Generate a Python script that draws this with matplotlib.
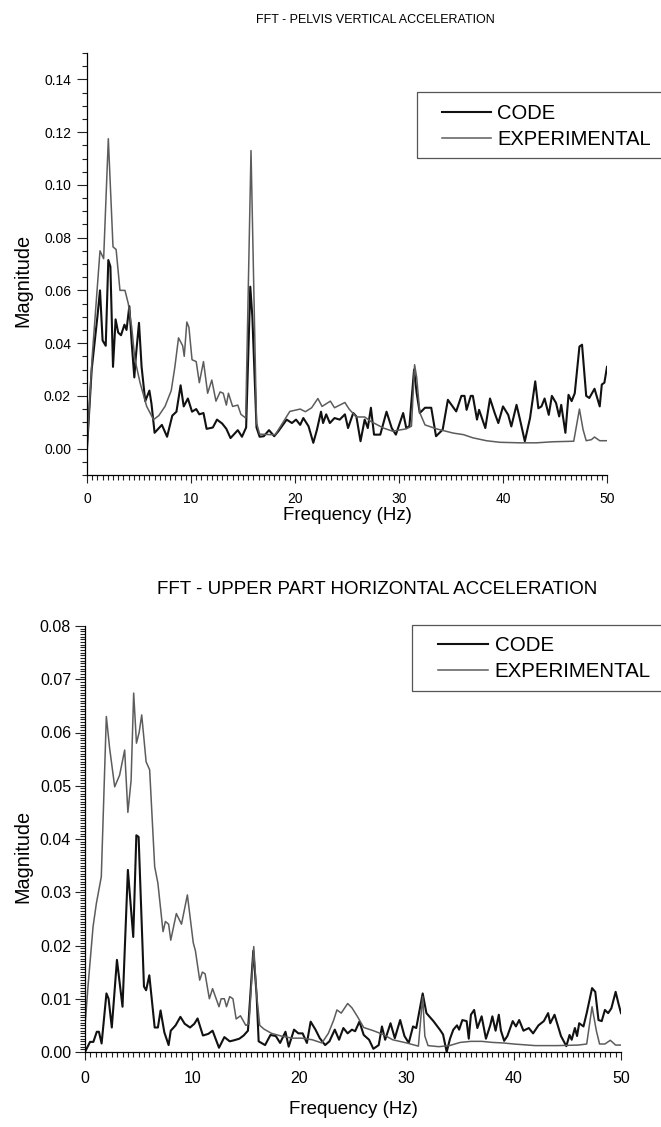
import matplotlib
matplotlib.use('Agg')
import matplotlib.pyplot as plt
from matplotlib.ticker import MultipleLocator, FormatStrFormatter
from matplotlib.patches import Rectangle

plt.rcParams['font.family'] = ['Liberation Sans', 'DejaVu Sans']

# --- pelvis vertical acceleration (top panel) ---
top_code_f = [
    0, 0.45, 1.0, 1.25, 1.5, 1.8, 2.05, 2.25, 2.5, 2.75,
    3.0, 3.27, 3.6, 3.8, 4.07, 4.3, 4.55, 4.7, 5.0, 5.25,
    5.6, 6.0, 6.2, 6.5, 7.2, 7.7, 8.2, 8.6, 9.0, 9.3,
    9.7, 10.1, 10.5, 10.8, 11.2, 11.5, 12.1, 12.5, 13.0, 13.4,
    13.8, 14.5, 14.9, 15.3, 15.7, 15.9, 16.3, 16.6, 17.0, 17.5,
    18.0, 18.4, 19.2, 19.7, 20.1, 20.5, 20.8, 21.3, 21.76, 22.1,
    22.5, 22.7, 23.0, 23.35, 23.8, 24.3, 24.8, 25.1, 25.6, 25.9,
    26.3, 26.7, 27.0, 27.3, 27.6, 28.2, 28.8, 29.3, 29.7, 30.4,
    30.7, 31.0, 31.45, 31.7, 32.0, 32.5, 33.1, 33.56, 34.2, 34.7,
    35.5, 36.0, 36.3, 36.5, 36.9, 37.1, 37.5, 37.7, 38.3, 38.75,
    39.2, 39.55, 40.0, 40.5, 40.8, 41.3, 41.6, 42.1, 42.6, 43.1,
    43.4, 43.7, 44.0, 44.4, 44.7, 45.1, 45.4, 45.6, 46.0, 46.3,
    46.6, 46.9, 47.35, 47.6, 48.0, 48.3, 48.8, 49.3, 49.5, 49.75,
    50.0]
top_code_v = [
    0.000, 0.030, 0.050, 0.060, 0.041, 0.039, 0.0715, 0.069, 0.031, 0.049,
    0.044, 0.043, 0.047, 0.045, 0.054, 0.040, 0.027, 0.035, 0.0477, 0.031,
    0.018, 0.022, 0.017, 0.006, 0.009, 0.0045, 0.0125, 0.014, 0.024, 0.016,
    0.019, 0.014, 0.015, 0.013, 0.0135, 0.0075, 0.008, 0.011, 0.0095, 0.0075,
    0.004, 0.007, 0.0045, 0.008, 0.0614, 0.050, 0.008, 0.0045, 0.0047, 0.007,
    0.0047, 0.0066, 0.011, 0.0097, 0.011, 0.009, 0.0116, 0.0085, 0.0022, 0.007,
    0.014, 0.0097, 0.013, 0.0097, 0.0116, 0.011, 0.013, 0.0078, 0.0135, 0.0122,
    0.0028, 0.011, 0.0078, 0.0155, 0.0053, 0.0053, 0.014, 0.0078, 0.0053, 0.0135,
    0.0078, 0.0085, 0.030, 0.021, 0.0135, 0.0155, 0.0155, 0.0047, 0.0072, 0.0185,
    0.0141, 0.020, 0.020, 0.0147, 0.020, 0.020, 0.011, 0.0147, 0.0078, 0.019,
    0.0135, 0.0097, 0.016, 0.0128, 0.0084, 0.0166, 0.0116, 0.0028, 0.0116, 0.0255,
    0.0153, 0.016, 0.019, 0.0128, 0.020, 0.0173, 0.0122, 0.0166, 0.006, 0.0204,
    0.018, 0.021, 0.0387, 0.0394, 0.020, 0.0192, 0.0227, 0.016, 0.0243, 0.025,
    0.031]

top_exp_f = [
    0, 0.5, 1.25, 1.6, 2.05, 2.5, 2.8, 3.17, 3.65, 3.97,
    4.3, 4.6, 5.1, 5.74, 6.4, 6.9, 7.5, 8.1, 8.45, 8.8,
    9.2, 9.35, 9.6, 9.8, 10.1, 10.5, 10.8, 11.2, 11.6, 12.0,
    12.4, 12.8, 13.1, 13.4, 13.6, 14.0, 14.5, 14.8, 15.26, 15.77,
    16.3, 16.6, 17.6, 18.1, 18.9, 19.5, 20.5, 21.0, 21.6, 22.2,
    22.6, 23.4, 23.8, 24.8, 25.2, 25.9, 26.7, 27.3, 28.5, 29.4,
    30.7, 31.2, 31.5, 31.7, 32.0, 32.5, 33.6, 35.2, 36.2, 37.1,
    38.4, 39.7, 41.6, 43.2, 44.8, 46.8, 47.0, 47.35, 47.7, 48.0,
    48.5, 48.8, 49.3, 50.0]
top_exp_v = [
    0.0, 0.035, 0.075, 0.072, 0.1175, 0.0765, 0.0755, 0.060, 0.060, 0.055,
    0.046, 0.034, 0.025, 0.016, 0.011, 0.0125, 0.016, 0.022, 0.031, 0.042,
    0.039, 0.035, 0.048, 0.046, 0.0337, 0.033, 0.025, 0.033, 0.021, 0.026,
    0.018, 0.0215, 0.021, 0.0165, 0.021, 0.016, 0.0165, 0.013, 0.0116, 0.113,
    0.0098, 0.0055, 0.0053, 0.0053, 0.0103, 0.0141, 0.015, 0.014, 0.0155, 0.019,
    0.016, 0.018, 0.0155, 0.0175, 0.015, 0.012, 0.012, 0.0103, 0.0078, 0.0066,
    0.0075, 0.0085, 0.0318, 0.027, 0.0136, 0.009, 0.0075, 0.0059, 0.0053, 0.0041,
    0.003, 0.0024, 0.0022, 0.0022, 0.0026, 0.0028, 0.0072, 0.015, 0.0072, 0.003,
    0.0034, 0.0044, 0.003, 0.003]

# --- upper part horizontal acceleration (bottom panel) ---
bot_code_f = [
    0, 0.47, 0.78, 1.1, 1.3, 1.55, 2.0, 2.2, 2.5, 2.98,
    3.5, 4.0, 4.5, 4.79, 5.0, 5.5, 5.7, 6.0, 6.5, 6.8,
    7.05, 7.4, 7.8, 8.0, 8.45, 8.9, 9.3, 9.8, 10.2, 10.5,
    11.0, 11.5, 11.9, 12.5, 13.0, 13.5, 13.9, 14.4, 14.8, 15.2,
    15.7, 16.0, 16.2, 16.8, 17.3, 17.8, 18.2, 18.7, 19.0, 19.5,
    19.9, 20.3, 20.7, 21.05, 21.5, 21.9, 22.4, 22.8, 23.3, 23.7,
    24.1, 24.5, 24.9, 25.2, 25.6, 26.0, 26.5, 26.9, 27.4, 27.7,
    28.0, 28.5, 28.9, 29.4, 29.8, 30.2, 30.6, 30.9, 31.5, 31.85,
    32.5, 33.1, 33.4, 33.74, 34.05, 34.36, 34.7, 34.9, 35.2, 35.6,
    35.8, 36.0, 36.3, 36.6, 37.0, 37.4, 37.8, 38.0, 38.3, 38.6,
    38.8, 39.1, 39.4, 39.9, 40.2, 40.5, 40.9, 41.4, 41.8, 42.3,
    42.8, 43.2, 43.4, 43.8, 44.1, 44.4, 44.9, 45.2, 45.4, 45.7,
    45.9, 46.1, 46.5, 46.8, 47.3, 47.6, 47.9, 48.2, 48.5, 48.8,
    49.1, 49.5, 49.75, 50.0]
bot_code_v = [
    0.0, 0.0019, 0.0019, 0.0038, 0.0038, 0.0016, 0.011, 0.010, 0.0046, 0.0173,
    0.0085, 0.0342, 0.0216, 0.0407, 0.0404, 0.0123, 0.0116, 0.0144, 0.0046, 0.0046,
    0.0078, 0.0037, 0.0013, 0.004, 0.005, 0.0066, 0.0053, 0.0046, 0.0053, 0.0063,
    0.0031, 0.0034, 0.004, 0.0008, 0.0028, 0.002, 0.0022, 0.0025, 0.0031, 0.004,
    0.019, 0.011, 0.002, 0.0013, 0.0032, 0.003, 0.0017, 0.0038, 0.001, 0.0042,
    0.0035, 0.0035, 0.0017, 0.0057, 0.0042, 0.0026, 0.0013, 0.002, 0.0042, 0.0023,
    0.0045, 0.0035, 0.0042, 0.0039, 0.0057, 0.0032, 0.0023, 0.0006, 0.0013, 0.0048,
    0.0023, 0.0054, 0.0026, 0.006, 0.003, 0.0017, 0.0048, 0.0045, 0.011, 0.0073,
    0.0058, 0.0042, 0.0033, 0.0, 0.0025, 0.0042, 0.005, 0.0042, 0.006, 0.0058,
    0.0025, 0.007, 0.0079, 0.0045, 0.0067, 0.0025, 0.005, 0.0067, 0.004, 0.007,
    0.004, 0.0021, 0.003, 0.0058, 0.0048, 0.006, 0.004, 0.0045, 0.0035, 0.005,
    0.0058, 0.0073, 0.0054, 0.007, 0.005, 0.003, 0.0011, 0.0032, 0.0023, 0.0045,
    0.003, 0.0054, 0.0048, 0.0073, 0.012, 0.0113, 0.006, 0.0058, 0.0079, 0.0073,
    0.0082, 0.0113, 0.0092, 0.0073]

bot_exp_f = [
    0, 0.28, 0.75, 1.06, 1.52, 1.99, 2.3, 2.77, 3.23, 3.7,
    4.0, 4.3, 4.54, 4.8, 5.05, 5.29, 5.7, 6.03, 6.5, 6.8,
    7.28, 7.5, 7.8, 8.0, 8.52, 9.0, 9.55, 10.1, 10.3, 10.7,
    10.95, 11.2, 11.6, 11.9, 12.5, 12.7, 13.0, 13.2, 13.5, 13.8,
    14.1, 14.5, 15.0, 15.3, 15.74, 16.0, 16.3, 16.7, 17.4, 18.3,
    19.3, 20.2, 21.2, 22.1, 22.7, 23.2, 23.5, 23.9, 24.5, 24.9,
    25.4, 26.0, 26.9, 27.8, 28.7, 30.0, 31.1, 31.5, 31.7, 32.0,
    33.0, 34.0, 35.0, 36.0, 37.0, 38.0, 39.0, 40.0, 42.0, 44.0,
    46.0, 46.8, 47.3, 47.7, 48.0, 48.5, 49.0, 49.5, 50.0]
bot_exp_v = [
    0.005, 0.0123, 0.0235, 0.0279, 0.0329, 0.063, 0.057, 0.0498, 0.052, 0.0567,
    0.045, 0.051, 0.0674, 0.058, 0.060, 0.0633, 0.0545, 0.053, 0.0348, 0.0317,
    0.0226, 0.0245, 0.024, 0.021, 0.026, 0.024, 0.0295, 0.0205, 0.019, 0.0135,
    0.015, 0.0147, 0.010, 0.0119, 0.0085, 0.010, 0.010, 0.0085, 0.0104, 0.010,
    0.0062, 0.0068, 0.005, 0.0053, 0.0198, 0.011, 0.005, 0.0043, 0.0035, 0.003,
    0.0026, 0.0026, 0.0023, 0.0017, 0.0035, 0.006, 0.0079, 0.0073, 0.0091, 0.0083,
    0.0067, 0.0046, 0.004, 0.0033, 0.0023, 0.0017, 0.0011, 0.0104, 0.003, 0.0012,
    0.001, 0.0012, 0.0018, 0.002, 0.002, 0.0018, 0.0017, 0.0015, 0.0012, 0.0012,
    0.0013, 0.0015, 0.0085, 0.004, 0.0015, 0.0015, 0.0022, 0.0013, 0.0013]

labels = ['CODE', 'EXPERIMENTAL']
titles = ['FFT - PELVIS VERTICAL ACCELERATION', 'FFT - UPPER PART HORIZONTAL ACCELERATION']

CODE_COLOR = '#111111'
EXP_COLOR = '#5c5c5c'

fig = plt.figure(figsize=(6.61, 11.27), dpi=100)
W, H = 661.0, 1127.0


def style_axes(ax, ylim, ymajor, yminor, tick_fs, ypad, xpad):
    ax.set_xlim(0, 50)
    ax.set_ylim(*ylim)
    for s in ['top', 'right']:
        ax.spines[s].set_visible(False)
    for s in ['left', 'bottom']:
        ax.spines[s].set_linewidth(0.9)
    ax.xaxis.set_major_locator(MultipleLocator(10))
    ax.xaxis.set_minor_locator(MultipleLocator(0.5))
    ax.yaxis.set_major_locator(MultipleLocator(ymajor))
    ax.yaxis.set_minor_locator(MultipleLocator(yminor))
    ax.yaxis.set_major_formatter(FormatStrFormatter('%.2f'))
    ax.tick_params(axis='both', which='both', direction='out', width=0.8, color='#222222')
    ax.tick_params(axis='x', which='major', length=6, pad=xpad, labelsize=tick_fs)
    ax.tick_params(axis='x', which='minor', length=3.5)
    ax.tick_params(axis='y', which='major', length=7.5, pad=ypad, labelsize=tick_fs)
    ax.tick_params(axis='y', which='minor', length=3.5)
    ax.set_xlabel('Frequency (Hz)', fontsize=13.5)
    ax.set_ylabel('Magnitude', fontsize=14.3)


def add_legend(ax, frame_x, frame_top, frame_bottom, handle_x, text_top, fs):
    # frame runs past the right edge of the figure, as in the original
    fig.add_artist(Rectangle((frame_x / W, 1 - frame_bottom / H), 0.6,
                             (frame_bottom - frame_top) / H,
                             transform=fig.transFigure, fill=False,
                             edgecolor='#555555', linewidth=0.9))
    ax.legend(labels, loc='upper left', bbox_to_anchor=(handle_x / W, 1 - text_top / H),
              bbox_transform=fig.transFigure, frameon=False, fontsize=fs,
              borderpad=0, borderaxespad=0, handlelength=2.45, handletextpad=0.3,
              labelspacing=0.33)


# top panel
ax1 = fig.add_axes([87 / W, 1 - 475 / H, 520 / W, 422 / H])
ax1.plot(top_code_f, top_code_v, color=CODE_COLOR, lw=1.5)
ax1.plot(top_exp_f, top_exp_v, color=EXP_COLOR, lw=1.1)
style_axes(ax1, (-0.01, 0.15), 0.02, 0.005, 10, 4, 6)
ax1.yaxis.set_label_coords(-0.106, 0.46)
ax1.xaxis.set_label_coords(0.5, -0.075)
add_legend(ax1, 417, 92, 158, 441.7, 104, 14.5)
fig.text(375 / W, 1 - 20 / H, titles[0], ha='center', va='center', fontsize=9)

# bottom panel
ax2 = fig.add_axes([85 / W, 1 - 1052 / H, 536 / W, 426 / H])
ax2.plot(bot_code_f, bot_code_v, color=CODE_COLOR, lw=1.5)
ax2.plot(bot_exp_f, bot_exp_v, color=EXP_COLOR, lw=1.1)
style_axes(ax2, (0, 0.08), 0.01, 0.0005, 11.5, 2.5, 8)
ax2.yaxis.set_label_coords(-0.099, 0.46)
ax2.xaxis.set_label_coords(0.5, -0.115)
add_legend(ax2, 412, 625, 691, 438, 636, 14.8)
fig.text(377 / W, 1 - 590 / H, titles[1], ha='center', va='center', fontsize=13.5)

fig.savefig('out.png', dpi=100)
